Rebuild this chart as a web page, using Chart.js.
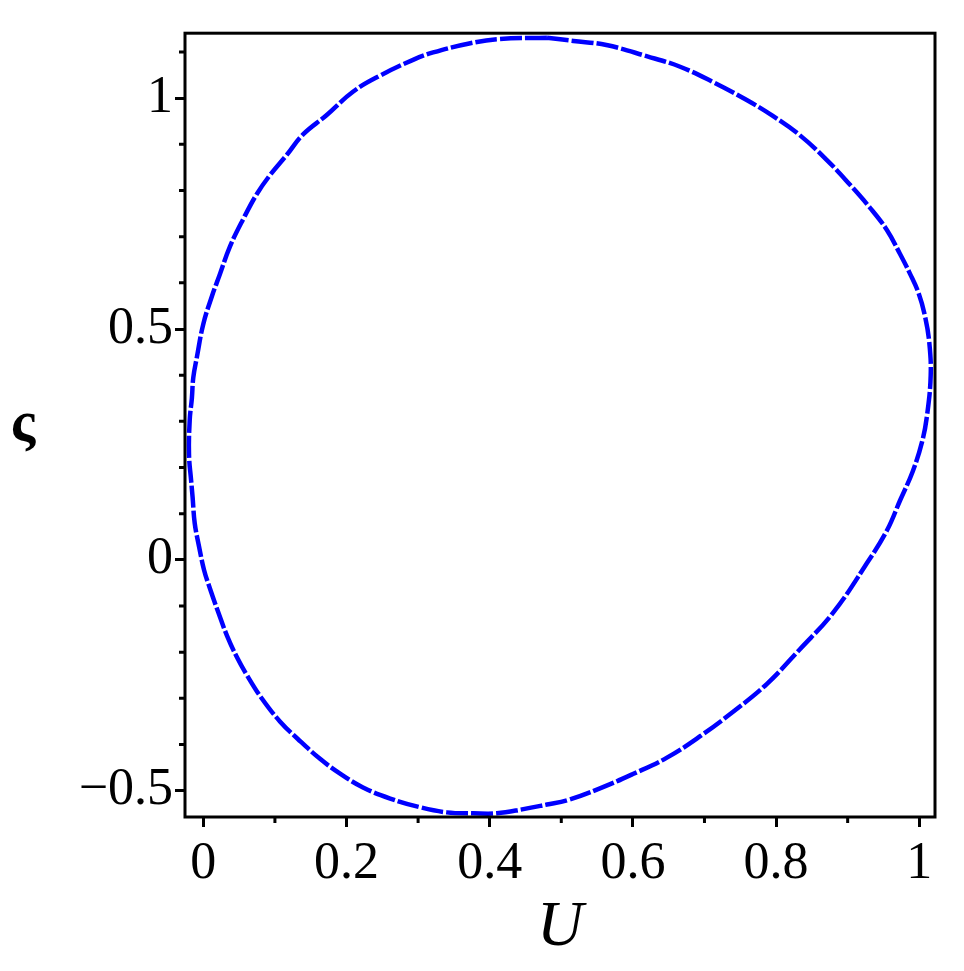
<!DOCTYPE html>
<html>
<head>
<meta charset="utf-8">
<script src="https://cdn.jsdelivr.net/npm/chart.js@4"></script>
<style>
  html, body { margin: 0; padding: 0; background: #fff; }
</style>
</head>
<body>
<canvas id="chart" width="964" height="971"></canvas>
<script>
// curve points, going round the loop from the top
const uVals = [0.480, 0.414, 0.373, 0.321, 0.293, 0.247, 0.209, 0.172, 0.139, 0.117,
  0.093, 0.075, 0.056, 0.037, 0.023, 0.012, 0.000, -0.009, -0.014, -0.016,
  -0.019, -0.020, -0.017, -0.015, -0.012, -0.006, 0.001, 0.009, 0.021, 0.033,
  0.047, 0.061, 0.082, 0.107, 0.132, 0.163, 0.191, 0.223, 0.261, 0.303,
  0.340, 0.377, 0.410, 0.447, 0.480, 0.508, 0.554, 0.600, 0.647, 0.694,
  0.740, 0.787, 0.833, 0.880, 0.927, 0.955, 0.973, 0.991, 1.004, 1.011,
  1.016, 1.014, 1.008, 0.999, 0.987, 0.973, 0.955, 0.931, 0.903, 0.871,
  0.833, 0.796, 0.759, 0.712, 0.666, 0.619, 0.563, 0.517, 0.480];
const sVals = [1.131, 1.128, 1.119, 1.099, 1.083, 1.049, 1.014, 0.963, 0.921, 0.878,
  0.833, 0.793, 0.739, 0.678, 0.618, 0.571, 0.511, 0.439, 0.395, 0.350,
  0.303, 0.228, 0.171, 0.136, 0.079, 0.029, -0.022, -0.061, -0.114, -0.164,
  -0.211, -0.250, -0.301, -0.350, -0.388, -0.431, -0.463, -0.493, -0.517, -0.536,
  -0.547, -0.549, -0.549, -0.540, -0.530, -0.521, -0.495, -0.464, -0.429, -0.382,
  -0.329, -0.269, -0.194, -0.114, -0.007, 0.064, 0.128, 0.192, 0.256, 0.314,
  0.400, 0.471, 0.528, 0.578, 0.620, 0.663, 0.714, 0.763, 0.813, 0.866,
  0.920, 0.961, 0.996, 1.035, 1.068, 1.091, 1.115, 1.124, 1.131];

const xTickVals = [0, 0.2, 0.4, 0.6, 0.8, 1];
const xTickLabels = ['0', '0.2', '0.4', '0.6', '0.8', '1'];
const xMinorVals = [0.1, 0.3, 0.5, 0.7, 0.9];
const yTickVals = [-0.5, 0, 0.5, 1];
const yTickLabels = ['\u22120.5', '0', '0.5', '1'];
const yMinorVals = [-0.4, -0.3, -0.2, -0.1, 0.1, 0.2, 0.3, 0.4, 0.6, 0.7, 0.8, 0.9, 1.1];

const xTitle = 'U';
const yTitle = '\u03C2';

const serif = '"Liberation Serif", "Times New Roman", serif';

// box round the plot, short ticks and the upright y label
const framePlugin = {
  id: 'frame',
  afterDraw(chart) {
    const { ctx, chartArea: a, scales: { x, y } } = chart;
    ctx.save();
    ctx.strokeStyle = '#000';
    ctx.lineWidth = 3;
    ctx.strokeRect(a.left, a.top, a.right - a.left, a.bottom - a.top);
    ctx.beginPath();
    xMinorVals.forEach(v => {
      const px = x.getPixelForValue(v);
      ctx.moveTo(px, a.bottom);
      ctx.lineTo(px, a.bottom + 6);
    });
    yMinorVals.forEach(v => {
      const py = y.getPixelForValue(v);
      ctx.moveTo(a.left, py);
      ctx.lineTo(a.left - 6, py);
    });
    ctx.stroke();

    ctx.fillStyle = '#000';
    ctx.font = 'bold 58px ' + serif;
    ctx.textAlign = 'center';
    ctx.textBaseline = 'alphabetic';
    ctx.fillText(yTitle, 23, 440);
    ctx.restore();
  }
};

const ctx = document.getElementById('chart').getContext('2d');

new Chart(ctx, {
  type: 'scatter',
  data: {
    datasets: [{
      data: uVals.map((u, i) => ({ x: u, y: sVals[i] })),
      showLine: true,
      borderColor: '#0000ff',
      borderWidth: 4.5,
      borderDash: [22, 3],
      tension: 0.4,
      pointRadius: 0,
      fill: false
    }]
  },
  options: {
    responsive: false,
    animation: false,
    devicePixelRatio: 1,
    layout: { padding: { top: 24, right: 29, left: 0, bottom: 0 } },
    plugins: {
      legend: { display: false },
      tooltip: { enabled: false }
    },
    scales: {
      x: {
        type: 'linear',
        min: -0.0256,
        max: 1.022,
        afterBuildTicks: s => { s.ticks = xTickVals.map(v => ({ value: v })); },
        afterFit: s => { s.height = 154; },
        grid: { drawOnChartArea: false, drawTicks: true, tickLength: 10, tickWidth: 3, tickColor: '#000' },
        border: { display: false },
        ticks: {
          callback: (v, i) => xTickLabels[i],
          font: { family: serif, size: 52 },
          color: '#000',
          padding: 6,
          maxRotation: 0,
          autoSkip: false
        },
        title: {
          display: true,
          text: xTitle,
          color: '#000',
          font: { family: serif, size: 64, style: 'italic' },
          padding: { top: 0, bottom: 4 }
        }
      },
      y: {
        type: 'linear',
        min: -0.557,
        max: 1.1407,
        afterBuildTicks: s => { s.ticks = yTickVals.map(v => ({ value: v })); },
        afterFit: s => { s.width = 185; },
        grid: { drawOnChartArea: false, drawTicks: true, tickLength: 10, tickWidth: 3, tickColor: '#000' },
        border: { display: false },
        ticks: {
          callback: (v, i) => yTickLabels[i],
          font: { family: serif, size: 52 },
          color: '#000',
          padding: 2,
          autoSkip: false
        }
      }
    }
  },
  plugins: [framePlugin]
});
</script>
</body>
</html>
